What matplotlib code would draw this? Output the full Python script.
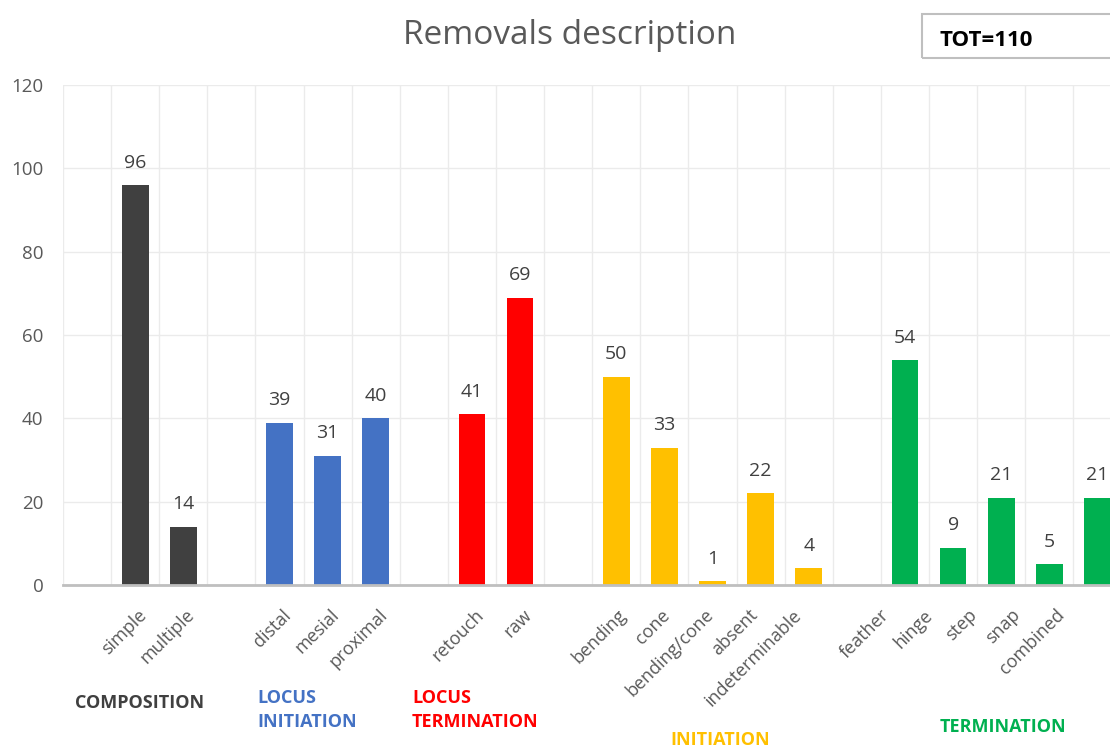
import matplotlib.pyplot as plt
from matplotlib.patches import Rectangle

plt.rcParams["font.family"] = ["Open Sans", "DejaVu Sans"]

# removal attributes, one list per group
composition = ["simple", "multiple"]
composition_n = [96, 14]
locus_init = ["distal", "mesial", "proximal"]
locus_init_n = [39, 31, 40]
locus_term = ["retouch", "raw"]
locus_term_n = [41, 69]
initiation = ["bending", "cone", "bending/cone", "absent", "indeterminable"]
initiation_n = [50, 33, 1, 22, 4]
termination = ["feather", "hinge", "step", "snap", "combined"]
termination_n = [54, 9, 21, 5, 21]

group_names = ["COMPOSITION", "LOCUS\nINITIATION", "LOCUS\nTERMINATION",
               "INITIATION", "TERMINATION"]
group_colors = ["#404040", "#4472C4", "#FF0000", "#FFC000", "#00B050"]
total = 110

TEXT = "#595959"


def main():
    groups = [
        (composition, composition_n),
        (locus_init, locus_init_n),
        (locus_term, locus_term_n),
        (initiation, initiation_n),
        (termination, termination_n),
    ]

    fig = plt.figure(figsize=(11.10, 7.48), dpi=100)
    ax = fig.add_axes([63 / 1110, 1 - 585 / 748, 1058.5 / 1110, 500 / 748])

    # an empty slot in front of each group keeps them apart
    slot = 0
    for (names, values), color in zip(groups, group_colors):
        slot += 1
        xs = [slot + i + 0.5 for i in range(len(names))]
        ax.bar(xs, values, width=0.555, color=color, zorder=2)
        for x, v in zip(xs, values):
            ax.text(x, v + 3.2, str(v), ha="center", va="bottom",
                    fontsize=14, color="#404040")
        # category names, drifting left towards the right side of the row
        for x, name in zip(xs, names):
            drift = max(0.0, x - 11.2) * 0.09
            ax.text(x + 0.05 - drift, -0.042, name,
                    transform=ax.get_xaxis_transform(), rotation=45,
                    ha="right", va="top", rotation_mode="anchor",
                    fontsize=13, color=TEXT)
        slot += len(names)

    ax.set_xlim(0, slot)
    ax.set_ylim(0, 120)
    ax.set_yticks(range(0, 121, 20))
    ax.set_xticks(range(0, slot + 1), minor=True)
    ax.set_xticks([])
    ax.tick_params(axis="x", which="both", length=0)
    ax.tick_params(axis="y", length=0, pad=14, labelsize=13.5,
                   labelcolor=TEXT)

    ax.grid(axis="y", color="#ebebeb", lw=1, zorder=0)
    ax.grid(axis="x", which="minor", color="#ebebeb", lw=1, zorder=0)
    for side in ["top", "right", "left"]:
        ax.spines[side].set_visible(False)
    ax.spines["bottom"].set_color("#bfbfbf")
    ax.spines["bottom"].set_linewidth(2)
    ax.spines["bottom"].set_zorder(3)

    fig.text(570 / 1110, 1 - 35 / 748, "Removals description", ha="center",
             va="center", fontsize=24, color=TEXT)

    # total count box in the top right corner
    fig.patches.append(Rectangle((922 / 1110, 1 - 58 / 748), 200 / 1110,
                                 44 / 748, transform=fig.transFigure,
                                 fill=False, edgecolor="#bfbfbf", lw=1.5))
    fig.text(940 / 1110, 1 - 40 / 748, f"TOT={total}", ha="left",
             va="center", fontsize=16, fontweight="bold", color="black")

    # group captions under the category names
    spots = [(75, 703), (257, 710), (412, 710), (670, 740), (940, 727)]
    for name, color, (x, y) in zip(group_names, group_colors, spots):
        fig.text(x / 1110, 1 - y / 748, name, ha="left", va="center",
                 fontsize=13, fontweight="bold", color=color,
                 linespacing=1.45)

    fig.savefig("out.png", dpi=100)


if __name__ == "__main__":
    main()
